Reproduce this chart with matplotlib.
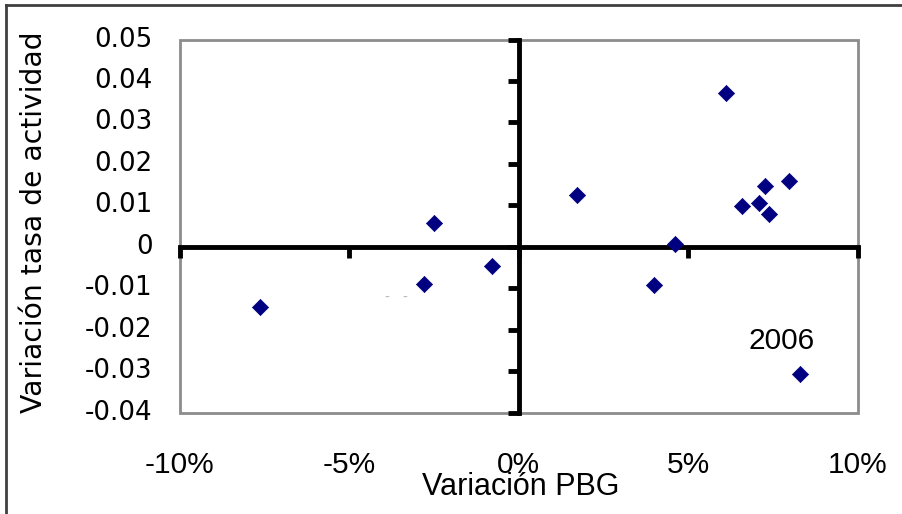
import matplotlib
matplotlib.use("Agg")
import matplotlib.pyplot as plt
from matplotlib import font_manager
from matplotlib.patches import Rectangle
from matplotlib.lines import Line2D
import matplotlib.transforms as mtransforms

# ---- data ----
pbg_change = [-7.63, -2.49, -2.79, -0.78, 1.73, 4.00, 4.62, 6.12, 6.60, 7.09, 7.27, 7.39, 7.98, 8.30]
activity_change = [-0.0144, 0.0057, -0.0090, -0.0047, 0.0124, -0.0093, 0.0008, 0.0370,
                   0.0098, 0.0105, 0.0146, 0.0078, 0.0158, -0.0307]
x_ticks = [-10, -5, 0, 5, 10]
x_tick_labels = ["-10%", "-5%", "0%", "5%", "10%"]
y_ticks = [-0.04, -0.03, -0.02, -0.01, 0, 0.01, 0.02, 0.03, 0.04, 0.05]
y_tick_labels = ["-0.04", "-0.03", "-0.02", "-0.01", "0", "0.01", "0.02", "0.03", "0.04", "0.05"]
annot_label = "2006"
annot_index = 13

names = {f.name for f in font_manager.fontManager.ttflist}
narrow = "Liberation Sans Narrow" if "Liberation Sans Narrow" in names else "Liberation Sans"

W, H = 902, 514
fig = plt.figure(figsize=(W / 100, H / 100), dpi=100)
left, right, top, bottom = 179.5, 857.5, 39.5, 412.7
ax = fig.add_axes([left / W, (H - bottom) / H, (right - left) / W, (bottom - top) / H])

ax.set_xlim(-10, 10)
ax.set_ylim(-0.04, 0.05)

ax.scatter(pbg_change, activity_change, marker="D", s=68, color="#000080",
           edgecolors="#000080", linewidths=0.5, zorder=5)

# axis spines crossing at origin
for side in ["left", "bottom"]:
    ax.spines[side].set_position(("data", 0))
    ax.spines[side].set_linewidth(3.5)
    ax.spines[side].set_color("black")
    ax.spines[side].set_zorder(4)
for side in ["top", "right"]:
    ax.spines[side].set_visible(False)

ax.set_xticks(x_ticks)
ax.set_yticks(y_ticks)
ax.tick_params(axis="both", direction="out", length=8, width=3.5, color="black",
               labelbottom=False, labelleft=False)

# plot-area border
ax.add_patch(Rectangle((0, 0), 1, 1, transform=ax.transAxes, fill=False,
                       edgecolor="#8c8c8c", lw=2, clip_on=False, zorder=1))

# tick labels at plot-area edges
tx = mtransforms.blended_transform_factory(ax.transData, ax.transAxes)
for v, lab in zip(x_ticks, x_tick_labels):
    ax.text(v, -0.139, lab, transform=tx, ha="center", va="center",
            fontsize=21.5, family=narrow, color="black")
ty = mtransforms.blended_transform_factory(ax.transAxes, ax.transData)
for v, lab in zip(y_ticks, y_tick_labels):
    ax.text(-0.040, v, lab, transform=ty, ha="right", va="center",
            fontsize=18.8, family="DejaVu Sans", color="black")

# axis titles
fig.text(521 / W, 1 - 487 / H, "Variación PBG", ha="center", va="center",
         fontsize=22, family=narrow, color="black")
fig.text(34 / W, 1 - 222 / H, "Variación tasa de actividad", ha="center", va="center",
         rotation=90, fontsize=20.3, family="DejaVu Sans", color="black")

# annotation
ax.annotate(annot_label, (pbg_change[annot_index], activity_change[annot_index]),
            xytext=(-18, 33), textcoords="offset pixels", ha="center", va="center",
            fontsize=21.5, family=narrow, color="black")

# faint hidden-label remnant
ax.text(-3.6, -0.0122, "-   -", ha="center", va="center", fontsize=10, color="#b8b8b8")

# outer chart border (cropped at right and bottom)
fig.add_artist(Line2D([6 / W, 6 / W], [-0.1, 1 - 5 / H], transform=fig.transFigure,
                      color="#404040", lw=2))
fig.add_artist(Line2D([6 / W, 1.1], [1 - 5 / H, 1 - 5 / H], transform=fig.transFigure,
                      color="#404040", lw=2))

fig.savefig("out.png", dpi=100)
